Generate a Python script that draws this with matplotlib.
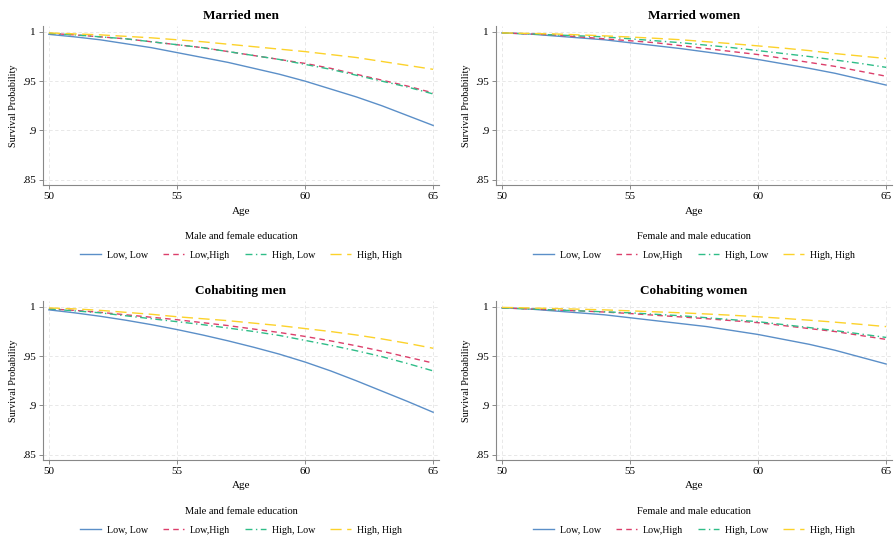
import matplotlib
matplotlib.use("Agg")
import matplotlib.pyplot as plt

plt.rcParams['font.family'] = ['Liberation Serif', 'DejaVu Serif']

# --- data (one value per year of age) ---
ages = list(range(50, 66))
series_labels = ['Low, Low', 'Low,High', 'High, Low', 'High, High']

married_men = {
    'Low, Low':   [.9975, .995, .992, .988, .984, .979, .974, .969, .963, .957, .950, .942, .934, .925, .915, .905],
    'Low,High':   [.9985, .997, .995, .993, .990, .987, .984, .980, .976, .972, .968, .963, .957, .951, .945, .938],
    'High, Low':  [.9985, .997, .995, .993, .990, .987, .984, .980, .976, .972, .967, .962, .956, .950, .944, .937],
    'High, High': [.999, .998, .997, .9955, .994, .992, .990, .9875, .985, .9825, .980, .977, .974, .970, .966, .962],
}
married_women = {
    'Low, Low':   [.999, .998, .996, .994, .992, .989, .986, .983, .9795, .976, .972, .9675, .963, .958, .952, .946],
    'Low,High':   [.999, .998, .997, .995, .993, .991, .989, .986, .983, .980, .977, .973, .969, .965, .960, .955],
    'High, Low':  [.999, .998, .997, .996, .995, .993, .991, .989, .9865, .984, .981, .978, .975, .9715, .968, .964],
    'High, High': [.999, .9985, .998, .997, .996, .9948, .9935, .992, .990, .988, .9858, .9835, .981, .978, .9755, .973],
}
cohab_men = {
    'Low, Low':   [.997, .994, .9905, .9865, .982, .977, .9715, .9655, .959, .952, .944, .935, .925, .9145, .904, .893],
    'Low,High':   [.998, .9965, .9945, .992, .9895, .987, .984, .981, .9775, .974, .970, .9655, .9605, .955, .949, .943],
    'High, Low':  [.998, .996, .994, .991, .988, .985, .982, .9785, .975, .971, .966, .961, .9555, .9495, .9425, .935],
    'High, High': [.999, .998, .9965, .9945, .9925, .990, .988, .986, .9835, .981, .978, .975, .9715, .9675, .963, .958],
}
cohab_women = {
    'Low, Low':   [.999, .998, .996, .994, .992, .989, .986, .983, .980, .976, .972, .967, .962, .956, .949, .942],
    'Low,High':   [.999, .998, .997, .996, .9948, .9933, .9915, .9898, .988, .986, .984, .981, .978, .975, .971, .967],
    'High, Low':  [.999, .998, .997, .996, .995, .994, .9925, .991, .989, .987, .985, .982, .979, .976, .9725, .969],
    'High, High': [.9995, .999, .9984, .9977, .997, .996, .995, .994, .9928, .9915, .990, .9883, .9865, .9845, .9823, .980],
}

panels = [
    ('Married men', married_men, 'Male and female education'),
    ('Married women', married_women, 'Female and male education'),
    ('Cohabiting men', cohab_men, 'Male and female education'),
    ('Cohabiting women', cohab_women, 'Female and male education'),
]

x_ticks = [50, 55, 60, 65]
y_ticks = [0.85, 0.9, 0.95, 1.0]
y_ticklabels = ['.85', '.9', '.95', '1']

styles = {
    'Low, Low':   dict(color='#5b8fc8', linestyle='-'),
    'Low,High':   dict(color='#dc3f6b', linestyle=(0, (4, 3))),
    'High, Low':  dict(color='#2fbd88', linestyle=(0, (5, 2.5, 1, 2.5))),
    'High, High': dict(color='#fcd22a', linestyle=(0, (8, 4))),
}

W, H = 895, 536
fig = plt.figure(figsize=(W / 100, H / 100), dpi=100)

# axes boxes in pixels: left, top, right, bottom
boxes = [(43, 26, 439, 185), (496, 26, 892, 185),
         (43, 301, 439, 460), (496, 301, 892, 460)]

for (title, data, leg_title), (l, t, r, b) in zip(panels, boxes):
    ax = fig.add_axes([l / W, (H - b) / H, (r - l) / W, (b - t) / H])
    for lab in series_labels:
        ax.plot(ages, data[lab], linewidth=1.0, label=lab, **styles[lab])
    ax.set_xlim(49.77, 65.23)
    ax.set_ylim(0.8445, 1.006)
    ax.set_xticks(x_ticks)
    ax.set_yticks(y_ticks)
    ax.set_yticklabels(y_ticklabels)
    ax.tick_params(labelsize=8, length=3, width=0.6, color='#777777', pad=2)
    ax.grid(True, color='#e4e4e4', linestyle=(0, (4, 3)), linewidth=0.6)
    ax.set_axisbelow(True)
    for side in ['top', 'right']:
        ax.spines[side].set_visible(False)
    for side in ['left', 'bottom']:
        ax.spines[side].set_color('#888888')
        ax.spines[side].set_linewidth(0.8)
    ax.set_title(title, fontsize=9.5, fontweight='bold', pad=5)
    ax.set_xlabel('Age', fontsize=8, labelpad=4)
    ax.set_ylabel('Survival Probability', fontsize=7.3, labelpad=3)
    leg = ax.legend(loc='upper center', bbox_to_anchor=(0.5, -0.27), ncol=4,
                    frameon=False, fontsize=7.2, title=leg_title,
                    title_fontsize=7.5, handlelength=2.1, handletextpad=0.6,
                    columnspacing=1.5, borderaxespad=0)
    leg._legend_box.sep = 7

fig.savefig('out.png', dpi=100, facecolor='white')
